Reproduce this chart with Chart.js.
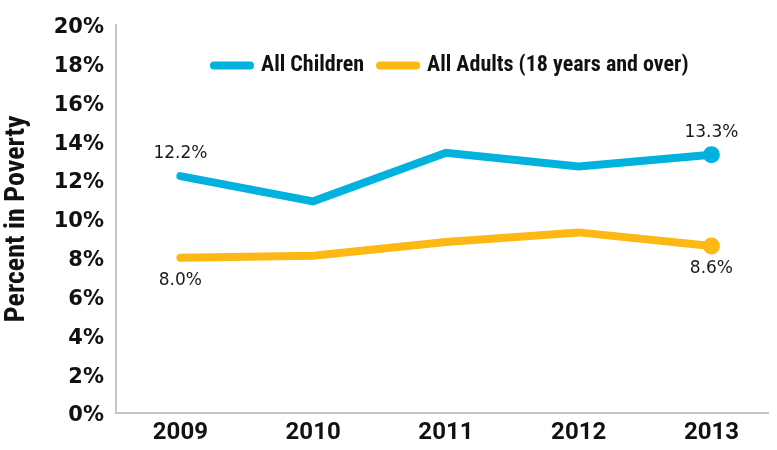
<!DOCTYPE html>
<html>
<head>
<meta charset="utf-8">
<script src="https://cdn.jsdelivr.net/npm/chart.js@4/dist/chart.umd.min.js"></script>
<style>
  html, body { margin: 0; padding: 0; background: #ffffff; overflow: hidden; }
  #wrap { position: relative; width: 777px; height: 450px; }
</style>
</head>
<body>
<div id="wrap"><canvas id="chart"></canvas></div>
<script>
// Poverty rates by year
const years = [2009, 2010, 2011, 2012, 2013];
const childrenRate = [12.2, 10.9, 13.4, 12.7, 13.3];
const adultsRate = [8.0, 8.1, 8.8, 9.3, 8.6];
const seriesNames = ['All Children', 'All Adults (18 years and over)'];
const yTicks = [0, 2, 4, 6, 8, 10, 12, 14, 16, 18, 20];

const BLUE = '#00b2dd';
const GOLD = '#fdb813';
const AXIS = '#c6c6c6';
const COND = '"Roboto Condensed", "Liberation Sans Narrow", sans-serif';

const toPoints = (vals) => vals.map((v, i) => ({ x: years[i], y: v }));
const lastIndex = years.length - 1;

// Value labels on the first and last point of each line
const valueLabels = {
  id: 'valueLabels',
  afterDatasetsDraw(chart) {
    const ctx = chart.ctx;
    ctx.save();
    ctx.font = '17px "DejaVu Sans", sans-serif';
    ctx.fillStyle = '#1a1a1a';
    ctx.textAlign = 'center';
    ctx.textBaseline = 'middle';
    chart.data.datasets.forEach((ds, di) => {
      const meta = chart.getDatasetMeta(di);
      const dy = ds.labelSide === 'above' ? -22 : 23;
      [0, lastIndex].forEach((i) => {
        const el = meta.data[i];
        const v = ds.data[i].y;
        ctx.fillText(v.toFixed(1) + '%', el.x, el.y + dy);
      });
    });
    ctx.restore();
  }
};

// Legend drawn inside the plot area, line swatches with round caps
const inlineLegend = {
  id: 'inlineLegend',
  afterDraw(chart) {
    const ctx = chart.ctx;
    const area = chart.chartArea;
    const swatch = 44, gapText = 7, gapItem = 12;
    ctx.save();
    ctx.font = 'bold 22px ' + COND;
    const items = chart.data.datasets.map((ds) => ({
      label: ds.label,
      color: ds.borderColor,
      w: ctx.measureText(ds.label).width
    }));
    let total = 0;
    items.forEach((it, i) => { total += swatch + gapText + it.w + (i ? gapItem : 0); });
    let x = (area.left + area.right) / 2 + 7 - total / 2;
    const y = area.top + 41;
    items.forEach((it) => {
      ctx.strokeStyle = it.color;
      ctx.lineWidth = 8;
      ctx.lineCap = 'round';
      ctx.beginPath();
      ctx.moveTo(x + 4, y);
      ctx.lineTo(x + swatch - 4, y);
      ctx.stroke();
      ctx.fillStyle = '#111111';
      ctx.textAlign = 'left';
      ctx.textBaseline = 'middle';
      ctx.fillText(it.label, x + swatch + gapText, y);
      x += swatch + gapText + it.w + gapItem;
    });
    ctx.restore();
  }
};

new Chart(document.getElementById('chart'), {
  type: 'line',
  data: {
    datasets: [
      {
        label: seriesNames[0],
        data: toPoints(childrenRate),
        borderColor: BLUE,
        backgroundColor: BLUE,
        labelSide: 'above'
      },
      {
        label: seriesNames[1],
        data: toPoints(adultsRate),
        borderColor: GOLD,
        backgroundColor: GOLD,
        labelSide: 'below'
      }
    ]
  },
  options: {
    responsive: true,
    maintainAspectRatio: false,
    animation: false,
    layout: { padding: { top: 19, right: 0, bottom: 0, left: 0 } },
    elements: {
      line: { borderWidth: 8, tension: 0, borderCapStyle: 'round', borderJoinStyle: 'miter', fill: false },
      point: {
        radius: (c) => (c.dataIndex === lastIndex ? 8.5 : 0),
        hoverRadius: (c) => (c.dataIndex === lastIndex ? 8.5 : 0),
        borderWidth: 0
      }
    },
    plugins: {
      legend: { display: false },
      tooltip: { enabled: false }
    },
    scales: {
      x: {
        type: 'linear',
        min: 2008.515,
        max: 2013.43,
        afterFit: (s) => { s.height = 37; },
        afterBuildTicks: (s) => { s.ticks = years.map((y) => ({ value: y })); },
        grid: { drawOnChartArea: false, drawTicks: false },
        border: { display: true, color: AXIS, width: 2 },
        ticks: {
          padding: 6,
          color: '#111111',
          font: { family: 'Roboto, "Liberation Sans", sans-serif', size: 24, weight: 'bold' },
          callback: (v) => String(v)
        }
      },
      y: {
        min: 0,
        max: 20,
        afterFit: (s) => { s.width = 116; },
        afterBuildTicks: (s) => { s.ticks = yTicks.map((v) => ({ value: v })); },
        grid: { drawOnChartArea: false, drawTicks: false },
        border: { display: true, color: AXIS, width: 2 },
        ticks: {
          padding: 12,
          labelOffset: 3,
          color: '#111111',
          font: { family: '"DejaVu Sans", sans-serif', size: 21, weight: 'bold' },
          callback: (v) => v + '%'
        },
        title: {
          display: true,
          text: 'Percent in Poverty',
          color: '#111111',
          padding: { top: 0, bottom: 0 },
          font: { family: COND, size: 28, weight: 'bold', lineHeight: 1.2 }
        }
      }
    }
  },
  plugins: [valueLabels, inlineLegend]
});
</script>
</body>
</html>
